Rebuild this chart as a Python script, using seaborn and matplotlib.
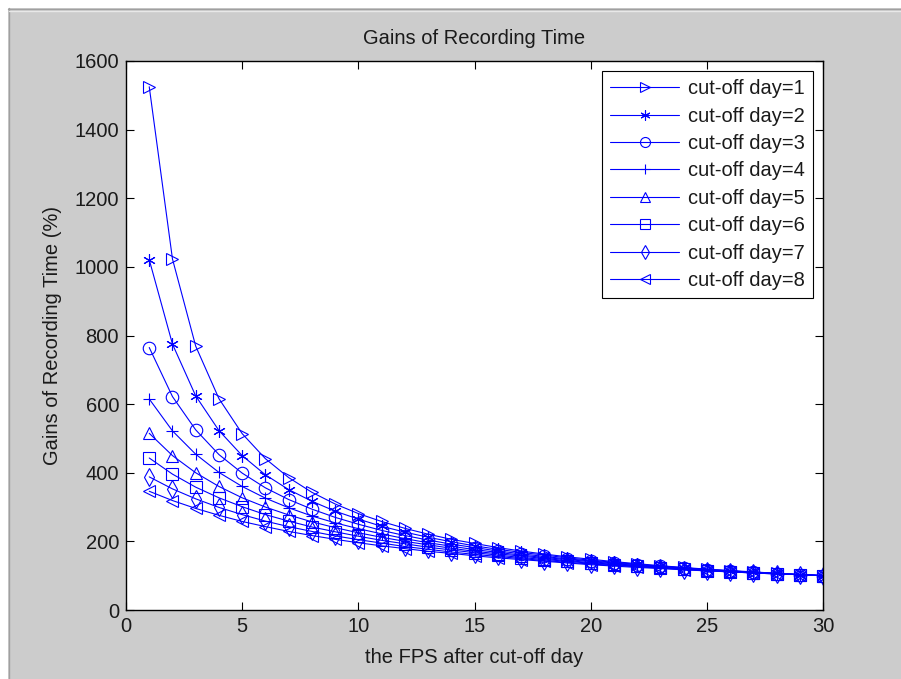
import matplotlib
matplotlib.use("Agg")
import matplotlib.pyplot as plt
import seaborn as sns
import pandas as pd
from matplotlib.patches import Rectangle
from matplotlib.lines import Line2D

# FPS kept after the cut-off day (x axis)
fps = list(range(1, 31))

# gains of recording time (%) per cut-off day
day1 = [1525, 1023, 769, 616, 514, 441, 386, 343, 309, 281, 258, 238, 221, 206, 194,
        182, 172, 163, 155, 148, 141, 135, 129, 124, 119, 115, 111, 107, 103, 100]
day2 = [1021, 775, 624, 523, 450, 394, 351, 317, 288, 265, 244, 227, 212, 199, 187,
        177, 168, 160, 152, 145, 139, 133, 128, 123, 118, 114, 110, 107, 103, 100]
day3 = [765, 622, 525, 453, 399, 356, 322, 294, 270, 250, 232, 217, 204, 192, 182,
        172, 164, 156, 149, 143, 137, 132, 127, 122, 118, 114, 110, 106, 103, 100]
day4 = [615, 522, 454, 401, 360, 326, 298, 274, 254, 237, 222, 208, 196, 186, 176,
        168, 160, 153, 147, 141, 135, 130, 125, 121, 117, 113, 109, 106, 103, 100]
day5 = [515, 450, 400, 360, 327, 300, 277, 257, 240, 225, 212, 200, 190, 180, 171,
        164, 157, 150, 144, 138, 133, 129, 124, 120, 116, 113, 109, 106, 103, 100]
day6 = [443, 396, 358, 327, 301, 278, 259, 242, 228, 215, 203, 193, 183, 175, 167,
        160, 153, 147, 142, 136, 132, 127, 123, 119, 115, 112, 109, 106, 103, 100]
day7 = [388, 353, 324, 299, 278, 259, 243, 229, 216, 205, 195, 185, 177, 169, 162,
        156, 150, 144, 139, 134, 130, 126, 122, 118, 115, 111, 108, 105, 103, 100]
day8 = [346, 319, 296, 276, 258, 243, 229, 217, 206, 196, 187, 179, 171, 165, 158,
        152, 147, 142, 137, 132, 128, 124, 121, 117, 114, 111, 108, 105, 103, 100]

series = [day1, day2, day3, day4, day5, day6, day7, day8]
labels = ["cut-off day=%d" % i for i in range(1, 9)]
# (6, 2, 0) is an asterisk made of lines, like matlab's '*'
markers = [">", (6, 2, 0), "o", "+", "^", "s", "d", "<"]

sns.set_theme(style="white")
plt.rcParams["font.family"] = ["Liberation Sans", "DejaVu Sans"]
plt.rcParams["font.size"] = 14.5
TXT = "#1a1a1a"

W, H = 901, 679
fig = plt.figure(figsize=(W / 100, H / 100), dpi=100, facecolor="white")
# matlab-like window background
fig.patches.append(Rectangle((8 / W, 0), 1, (H - 8) / H, transform=fig.transFigure,
                             facecolor="#cccccc", edgecolor="none", zorder=-10))
fig.lines.append(Line2D([8 / W, 1], [(H - 8.5) / H] * 2, transform=fig.transFigure,
                        color="#a0a0a0", lw=1))
fig.lines.append(Line2D([8.5 / W] * 2, [0, (H - 8) / H], transform=fig.transFigure,
                        color="#a0a0a0", lw=1))
fig.lines.append(Line2D([9 / W, 1], [(H - 10.5) / H] * 2, transform=fig.transFigure,
                        color="#e8e8e8", lw=1))

ax = fig.add_axes([126 / W, 69 / H, 697 / W, 549 / H])
ax.set_facecolor("white")

for vals, lab, m in zip(series, labels, markers):
    df = pd.DataFrame({"fps": fps, "gain": vals})
    sns.lineplot(data=df, x="fps", y="gain", ax=ax, color="blue", errorbar=None,
                 marker=m, markersize=9, markerfacecolor="none", markeredgecolor="blue",
                 markeredgewidth=0.8, linewidth=0.8, label=lab)

ax.set_xlim(0, 30)
ax.set_ylim(0, 1600)
ax.set_xticks(range(0, 31, 5))
ax.set_yticks(range(0, 1601, 200))
ax.tick_params(direction="in", top=True, right=True, bottom=True, left=True,
               length=6, width=0.8, color="black", labelsize=14.5, labelcolor=TXT, pad=5)
for sp in ax.spines.values():
    sp.set_color("black")
    sp.set_linewidth(1)

ax.set_title("Gains of Recording Time", fontsize=14.5, color=TXT, pad=12)
ax.set_xlabel("the FPS after cut-off day", fontsize=14.5, color=TXT, labelpad=9)
ax.set_ylabel("Gains of Recording Time (%)", fontsize=14.5, color=TXT, labelpad=9)

leg = ax.legend(loc="upper right", frameon=True, fancybox=False, framealpha=1,
                edgecolor="black", handlelength=3.4, handletextpad=0.45,
                labelspacing=0.42, borderpad=0.4, markerscale=0.8, fontsize=14.5)
leg.get_frame().set_linewidth(0.8)
for t in leg.get_texts():
    t.set_color(TXT)

fig.savefig("out.png", dpi=100, facecolor=fig.get_facecolor())
